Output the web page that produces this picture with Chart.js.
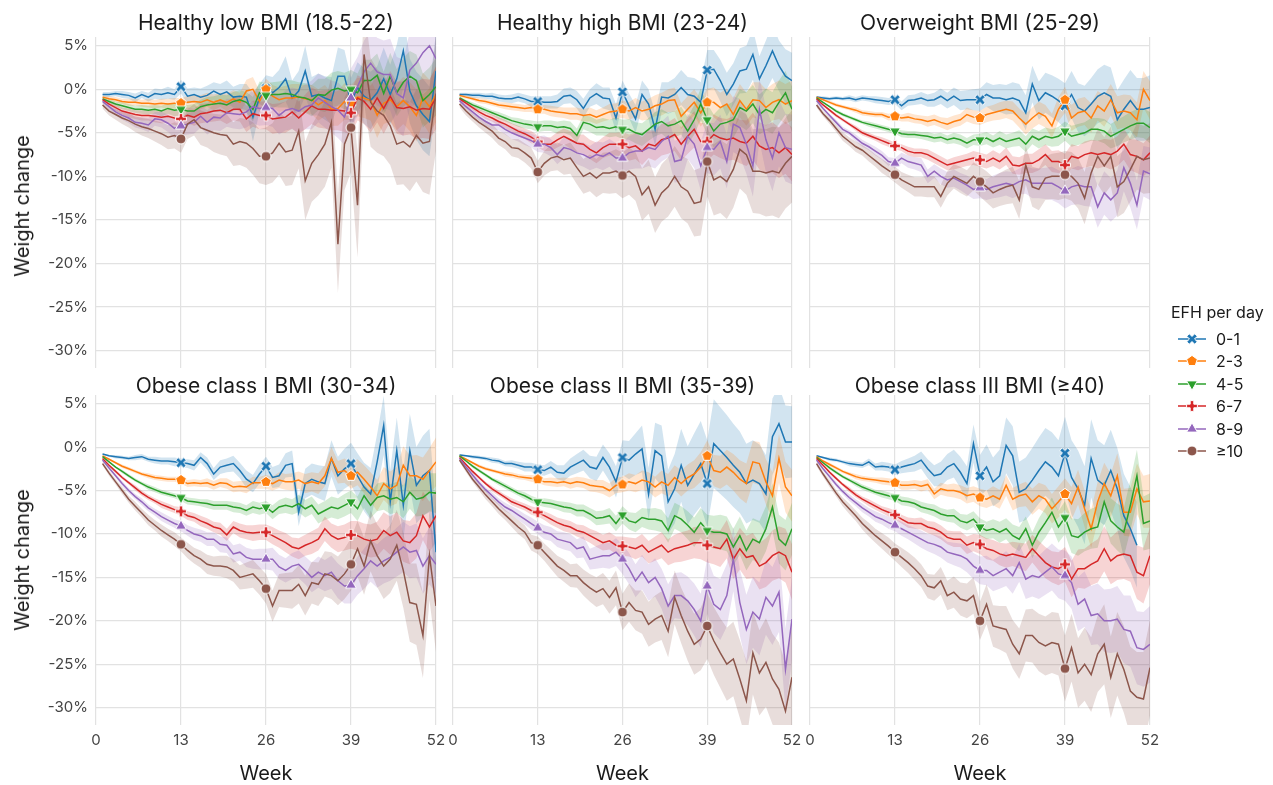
<!DOCTYPE html>
<html>
<head>
<meta charset="utf-8">
<script src="https://cdn.jsdelivr.net/npm/chart.js@4.4.1/dist/chart.umd.min.js"></script>
<style>
  body { margin: 0; background: #fff; font-family: Inter, "Noto Sans", sans-serif; }
  #fig { position: relative; width: 1273px; height: 785px; overflow: hidden; background: #fff; }
  #fig canvas.panel { position: absolute; }
  .txt { position: absolute; white-space: nowrap; color: #1a1a1a; transform: translate(-50%, -50%); }
  .ptitle { font-size: 21px; }
  .axtitle { font-size: 20px; }
  .ytitle { transform: translate(-50%, -50%) rotate(-90deg); }
  #legend { position: absolute; left: 1171px; top: 300px; color: #1a1a1a; }
  #legend .lgTitle { font-size: 16px; height: 24px; line-height: 24px; white-space: nowrap; }
  #legend .lgRow { position: absolute; left: 7px; height: 16px; display: flex; align-items: center; font-size: 16px; white-space: nowrap; }
  #legend .lgRow canvas { margin-right: 10px; }
</style>
</head>
<body>
<div id="fig"></div>
<script>
// weekly mean weight change (%) and CI half-widths, one array per EFH group
const weeks = [1,2,3,4,5,6,7,8,9,10,11,12,13,14,15,16,17,18,19,20,21,22,23,24,25,26,
  27,28,29,30,31,32,33,34,35,36,37,38,39,40,41,42,43,44,45,46,47,48,49,50,51,52];
const markWeeks = [13, 26, 39];
const xTicks = [0, 13, 26, 39, 52];
const yTicks = [5, 0, -5, -10, -15, -20, -25, -30];
const efhLabels = ['0-1', '2-3', '4-5', '6-7', '8-9', '≥10'];
const panelTitles = ['Healthy low BMI (18.5-22)', 'Healthy high BMI (23-24)', 'Overweight BMI (25-29)',
  'Obese class I BMI (30-34)', 'Obese class II BMI (35-39)', 'Obese class III BMI (≥40)'];

// Healthy low BMI
const lowBmi01 = [-0.6,-0.6,-0.5,-0.6,-0.7,-1.0,-0.6,-0.9,-0.5,-0.6,-0.4,-0.6,0.3,
  -0.8,-0.6,-0.9,-0.7,-0.2,-0.6,-0.3,-0.9,-0.8,-0.9,-3.2,-1.0,0.1,
  -0.4,0.2,1.2,-1.0,-0.2,2.1,-0.8,-0.6,-1.0,-1.3,1.5,1.5,-1.5,
  0.2,-0.8,-1.3,-0.4,1.2,-0.6,1.2,4.4,-0.2,-1.9,-2.9,-3.7,2.1];
const lowBmi23 = [-0.9,-1.1,-1.2,-1.4,-1.5,-1.5,-1.6,-1.6,-1.7,-1.6,-1.7,-1.6,-1.6,
  -1.5,-1.4,-1.5,-1.2,-1.5,-1.2,-1.5,-1.1,-1.5,-0.2,0.0,-1.4,0.0,
  -0.8,-1.2,-1.0,-1.0,-0.9,-1.1,-1.2,-1.8,-1.3,-2.3,-2.2,-1.4,-1.5,
  -0.9,-1.0,-1.3,-3.0,-1.6,-1.2,-2.0,-1.3,-2.0,-3.0,-1.0,-2.0,-0.6];
const lowBmi45 = [-1.1,-1.4,-1.7,-1.9,-2.1,-2.3,-2.3,-2.4,-2.3,-2.5,-2.2,-2.4,-2.3,
  -2.5,-2.5,-2.0,-1.8,-1.7,-1.6,-1.8,-1.4,-1.2,-1.5,-2.3,-0.4,-0.7,
  -0.6,-0.6,-0.5,-0.6,-0.9,-1.0,-1.3,-0.6,-0.7,-0.1,0.1,-0.2,0.0,
  -0.4,1.0,1.0,1.6,-0.5,1.5,-0.4,0.8,1.5,1.0,-1.3,-0.6,0.3];
const lowBmi67 = [-1.2,-1.7,-2.1,-2.5,-2.7,-2.9,-3.0,-3.0,-3.1,-3.2,-3.1,-3.3,-3.4,
  -3.0,-3.2,-2.8,-2.7,-2.5,-2.4,-2.7,-2.3,-2.3,-3.4,-2.8,-3.0,-3.0,
  -3.4,-3.3,-3.2,-2.6,-3.3,-2.6,-1.9,-2.3,-2.3,-2.4,-2.4,-2.5,-2.7,
  -1.0,-1.4,-2.3,-1.0,-2.2,-0.8,-2.1,-2.2,-2.0,-2.4,-2.2,-2.3,-1.0];
const lowBmi89 = [-1.4,-2.0,-2.6,-3.0,-3.3,-3.8,-3.9,-4.1,-3.4,-3.5,-3.9,-4.5,-4.2,
  -4.0,-3.8,-3.1,-3.8,-3.2,-3.3,-2.7,-2.8,-2.9,-2.6,-2.0,-2.2,-2.1,
  -2.2,-3.0,-2.4,-2.2,-2.5,-2.0,-1.8,-1.0,-1.5,-2.0,-2.4,-3.2,-1.0,
  0.3,2.0,3.0,2.0,1.7,1.7,-0.5,-1.0,2.2,3.0,4.2,5.0,3.5];
const lowBmi10 = [-1.8,-2.5,-2.9,-3.3,-3.6,-4.0,-4.3,-4.5,-4.8,-5.1,-5.5,-5.3,-5.7,
  -4.0,-3.5,-4.4,-4.7,-5.0,-5.2,-5.3,-6.3,-6.0,-6.2,-6.8,-7.7,-7.7,
  -7.3,-6.2,-7.2,-7.0,-4.8,-10.5,-8.5,-7.5,-6.3,-3.8,-17.8,-6.3,-4.4,
  -13.3,4.0,-1.5,-2.5,-3.0,-4.2,-6.3,-6.0,-6.6,-5.3,-6.2,-6.0,-0.5];
const lowBmi01Ci = [0.3,0.3,0.3,0.4,0.4,0.5,0.4,0.5,0.6,0.6,0.7,0.6,0.8,
  0.9,0.8,1.0,1.1,1.0,1.2,1.3,1.2,1.4,1.5,2.8,1.6,1.5,
  1.8,2.0,2.6,2.0,2.3,2.9,2.2,2.4,2.5,2.7,3.3,3.0,2.8,
  2.9,3.2,3.3,3.0,3.6,3.4,3.9,4.3,3.7,3.9,4.1,4.0,4.4];
const lowBmi23Ci = [0.2,0.3,0.3,0.3,0.4,0.4,0.4,0.5,0.5,0.5,0.6,0.6,0.6,
  0.7,0.7,0.8,0.8,0.9,0.8,1.0,1.0,1.1,1.3,1.4,1.2,1.2,
  1.3,1.4,1.4,1.6,1.5,1.6,1.7,1.8,1.8,1.9,2.0,2.1,2.0,
  2.2,2.3,2.3,2.6,2.4,2.5,2.7,2.7,2.8,3.0,2.9,3.1,3.2];
const lowBmi45Ci = [0.2,0.3,0.3,0.4,0.4,0.4,0.5,0.5,0.5,0.6,0.6,0.7,0.7,
  0.7,0.8,0.8,0.9,0.9,1.0,1.1,1.1,1.1,1.2,1.4,1.3,1.4,
  1.4,1.5,1.6,1.6,1.7,1.7,1.8,1.8,1.9,2.0,2.0,2.1,2.2,
  2.2,2.4,2.4,2.5,2.5,2.7,2.7,2.8,2.9,3.0,3.1,3.1,3.3];
const lowBmi67Ci = [0.3,0.3,0.4,0.4,0.5,0.5,0.6,0.6,0.7,0.7,0.8,0.8,0.9,
  0.9,1.0,1.1,1.1,1.2,1.2,1.3,1.3,1.4,1.5,1.5,1.6,1.6,
  1.7,1.7,1.8,1.9,1.9,2.0,2.1,2.1,2.2,2.3,2.3,2.4,2.5,
  2.6,2.6,2.7,2.8,2.9,2.9,3.0,3.1,3.2,3.3,3.4,3.4,3.6];
const lowBmi89Ci = [0.3,0.4,0.4,0.5,0.6,0.6,0.7,0.8,0.8,0.9,1.0,1.1,1.1,
  1.2,1.3,1.3,1.4,1.5,1.5,1.6,1.7,1.7,1.8,1.9,2.0,2.0,
  2.1,2.2,2.3,2.4,2.5,2.6,2.8,2.8,2.9,3.0,3.2,3.2,3.4,
  3.4,3.6,3.7,3.9,3.9,4.1,4.2,4.4,4.4,4.6,4.7,4.9,5.0];
const lowBmi10Ci = [0.4,0.5,0.6,0.7,0.8,0.9,1.0,1.1,1.2,1.3,1.4,1.5,1.6,
  1.7,1.8,2.0,2.0,2.2,2.3,2.4,2.5,2.7,2.8,3.0,3.1,3.3,
  3.4,3.6,3.9,4.0,4.3,4.5,4.4,4.7,4.9,5.2,5.6,5.3,5.1,
  6.0,5.6,5.1,4.8,4.7,4.5,4.7,4.9,5.1,5.3,5.6,6.1,6.6];

// Healthy high BMI
const highBmi01 = [-0.6,-0.6,-0.7,-0.7,-0.8,-0.8,-1.0,-1.1,-1.1,-0.9,-1.1,-1.4,-1.4,
  -1.5,-1.5,-1.4,-0.8,-0.7,-1.2,-2.2,-1.0,-0.5,-1.0,-1.1,-3.3,-0.3,
  -1.9,-3.4,-0.6,-1.7,-4.6,-0.9,-1.0,-0.6,0.2,-0.6,-0.8,-1.5,2.2,
  2.3,1.0,-0.6,0.6,2.1,2.3,4.0,1.2,2.7,4.4,2.7,1.5,1.0];
const highBmi23 = [-0.7,-0.9,-1.1,-1.3,-1.4,-1.6,-1.8,-1.9,-2.0,-2.1,-2.2,-2.1,-2.3,
  -2.3,-2.5,-2.6,-2.7,-2.8,-2.8,-3.0,-2.9,-3.2,-2.9,-2.6,-2.5,-2.3,
  -2.5,-2.1,-2.5,-2.3,-1.9,-1.7,-1.3,-1.2,-3.1,-2.3,-1.5,-2.7,-1.5,
  -1.5,-2.1,-1.7,-2.9,-1.3,-2.3,-1.2,-1.3,-2.1,-1.5,-1.2,-1.7,-1.3];
const highBmi45 = [-1.0,-1.4,-1.8,-2.1,-2.4,-2.7,-3.0,-3.3,-3.6,-3.8,-4.0,-4.1,-4.3,
  -4.2,-4.2,-4.4,-4.3,-4.5,-5.3,-3.8,-4.0,-4.4,-4.3,-4.5,-4.3,-4.6,
  -4.6,-5.0,-5.2,-4.6,-4.0,-3.7,-4.2,-4.0,-3.6,-4.8,-3.5,-1.7,-3.5,
  -4.8,-4.0,-3.8,-3.5,-2.1,-2.5,-1.7,-2.9,-2.3,-2.7,-1.5,-0.4,-2.3];
const highBmi67 = [-1.1,-1.6,-2.1,-2.6,-3.0,-3.3,-3.7,-4.0,-4.4,-4.8,-5.1,-5.5,-6.0,
  -6.3,-6.3,-5.8,-5.4,-5.8,-6.2,-6.3,-6.9,-7.3,-6.7,-6.3,-6.3,-6.3,
  -6.7,-6.5,-7.1,-6.3,-6.5,-5.8,-5.6,-5.2,-6.3,-5.4,-4.6,-6.0,-6.0,
  -5.2,-5.6,-5.8,-5.6,-6.0,-6.2,-5.4,-6.5,-6.9,-6.7,-7.3,-6.7,-7.5];
const highBmi89 = [-1.3,-2.0,-2.6,-3.2,-3.7,-4.1,-4.1,-4.6,-5.0,-5.3,-5.6,-5.9,-6.3,
  -6.3,-6.7,-7.5,-6.7,-6.9,-7.3,-7.5,-7.9,-7.5,-7.7,-7.3,-7.9,-7.9,
  -7.3,-7.1,-7.1,-6.7,-6.9,-6.0,-5.4,-8.3,-8.1,-5.4,-6.3,-8.8,-6.7,
  -6.9,-6.0,-8.3,-4.0,-4.4,-6.3,-8.8,-2.3,-5.8,-7.9,-5.0,-6.7,-6.9];
const highBmi10 = [-1.7,-2.5,-3.2,-3.8,-4.3,-4.8,-5.6,-6.0,-6.7,-6.8,-7.3,-7.9,-9.5,
  -8.5,-7.9,-7.7,-8.1,-7.9,-9.0,-10.0,-9.6,-10.2,-9.6,-9.6,-9.4,-9.9,
  -9.4,-10.0,-12.1,-11.2,-13.3,-11.9,-11.2,-10.0,-11.2,-11.7,-13.1,-12.9,-8.3,
  -10.4,-10.0,-10.6,-9.2,-6.9,-7.5,-9.4,-9.4,-9.6,-9.4,-9.6,-8.5,-7.7];
const highBmi01Ci = [0.2,0.2,0.3,0.3,0.3,0.4,0.4,0.4,0.5,0.5,0.5,0.6,0.6,
  0.7,0.7,0.8,0.9,0.9,1.0,1.1,1.0,1.2,1.2,1.3,1.6,1.3,
  1.4,1.6,1.6,1.7,1.9,1.7,1.8,1.9,2.0,2.0,2.1,2.3,2.3,
  2.2,2.4,2.5,2.4,2.6,2.7,2.9,2.6,2.9,3.1,2.9,3.1,3.2];
const highBmi23Ci = [0.2,0.2,0.2,0.3,0.3,0.3,0.3,0.4,0.4,0.4,0.4,0.5,0.5,
  0.5,0.6,0.6,0.6,0.7,0.7,0.7,0.8,0.8,0.8,0.9,0.9,1.0,
  1.0,1.1,1.1,1.2,1.2,1.3,1.3,1.4,1.5,1.5,1.5,1.6,1.6,
  1.7,1.7,1.8,1.9,1.9,1.9,2.0,2.1,2.1,2.1,2.2,2.3,2.3];
const highBmi45Ci = [0.2,0.2,0.3,0.3,0.3,0.3,0.4,0.4,0.4,0.5,0.5,0.5,0.6,
  0.6,0.6,0.7,0.7,0.8,0.8,0.8,0.9,0.9,1.0,1.0,1.1,1.1,
  1.2,1.2,1.3,1.3,1.4,1.4,1.5,1.5,1.6,1.6,1.7,1.8,1.8,
  1.9,1.9,2.0,2.1,2.1,2.2,2.2,2.3,2.4,2.4,2.5,2.5,2.6];
const highBmi67Ci = [0.2,0.3,0.3,0.3,0.4,0.4,0.5,0.5,0.5,0.6,0.6,0.7,0.7,
  0.8,0.8,0.9,0.9,1.0,1.0,1.1,1.1,1.2,1.2,1.3,1.3,1.4,
  1.5,1.5,1.6,1.6,1.7,1.8,1.8,1.9,1.9,2.0,2.1,2.1,2.2,
  2.3,2.3,2.4,2.5,2.5,2.6,2.7,2.7,2.8,2.9,2.9,3.0,3.1];
const highBmi89Ci = [0.3,0.3,0.4,0.4,0.5,0.5,0.6,0.6,0.7,0.7,0.8,0.8,0.9,
  1.0,1.0,1.1,1.2,1.2,1.3,1.4,1.4,1.5,1.6,1.6,1.7,1.8,
  1.9,2.0,2.0,2.1,2.2,2.3,2.4,2.4,2.5,2.6,2.7,2.8,2.9,
  3.0,3.1,3.1,3.2,3.3,3.4,3.5,3.6,3.7,3.8,3.8,3.9,4.0];
const highBmi10Ci = [0.4,0.5,0.5,0.6,0.7,0.8,0.8,0.9,1.0,1.1,1.1,1.2,1.3,
  1.4,1.5,1.6,1.7,1.8,1.9,2.0,2.1,2.2,2.3,2.4,2.5,2.6,
  2.7,2.8,3.0,3.1,3.2,3.3,3.4,3.5,3.6,3.7,3.8,3.9,4.0,
  4.1,4.2,4.3,4.4,4.5,4.6,4.8,4.9,5.0,5.1,5.2,5.2,5.3];

// Overweight BMI
const overBmi01 = [-0.9,-1.0,-1.1,-1.0,-1.1,-1.0,-1.2,-1.0,-1.1,-1.2,-1.3,-1.4,-1.2,
  -1.9,-1.3,-1.2,-1.0,-1.3,-1.2,-0.8,-1.3,-0.8,-1.3,-1.2,-1.2,-1.2,
  -0.6,-1.0,-1.0,-1.2,-1.0,-1.3,-2.7,0.6,-1.3,-0.4,-0.8,-1.3,-1.9,
  -0.6,-2.1,-2.5,-1.7,-0.8,-0.4,-0.8,-3.5,-2.3,-1.3,-2.3,-2.3,-2.1];
const overBmi23 = [-0.9,-1.2,-1.5,-1.8,-2.0,-2.2,-2.4,-2.7,-2.8,-2.9,-2.9,-3.2,-3.1,
  -3.3,-3.2,-3.4,-3.5,-3.7,-3.5,-3.8,-4.0,-3.7,-3.5,-2.9,-3.2,-3.3,
  -2.9,-2.7,-2.5,-2.3,-2.5,-3.3,-4.0,-3.3,-2.7,-3.1,-4.2,-2.3,-1.2,
  -3.3,-2.7,-2.5,-3.3,-1.9,-2.5,-1.2,-2.7,-2.5,-2.7,-3.5,0.0,-1.3];
const overBmi45 = [-1.0,-1.5,-2.0,-2.5,-2.9,-3.2,-3.5,-3.8,-4.0,-4.2,-4.4,-4.6,-4.8,
  -5.1,-5.2,-5.2,-5.3,-5.4,-5.6,-5.5,-5.8,-5.6,-5.8,-6.2,-5.8,-5.8,
  -5.6,-6.0,-5.6,-6.0,-5.8,-5.6,-6.3,-5.4,-5.8,-5.4,-5.6,-5.4,-4.8,
  -5.4,-5.2,-5.0,-4.6,-4.6,-4.8,-5.4,-5.0,-4.6,-4.2,-3.9,-3.9,-4.4];
const overBmi67 = [-1.1,-1.8,-2.4,-3.0,-3.5,-4.0,-4.5,-5.0,-5.3,-5.6,-5.9,-6.2,-6.5,
  -6.7,-7.1,-7.3,-7.3,-7.5,-7.9,-8.3,-8.7,-8.5,-8.3,-8.1,-7.9,-8.1,
  -8.3,-7.9,-8.3,-7.7,-8.7,-8.8,-8.5,-8.5,-8.1,-7.5,-8.3,-8.3,-8.7,
  -7.7,-7.9,-7.5,-7.3,-7.5,-7.3,-7.5,-7.1,-6.3,-7.5,-7.7,-8.1,-7.3];
const overBmi89 = [-1.3,-2.2,-3.0,-3.8,-4.6,-5.0,-5.6,-6.2,-6.6,-7.1,-7.6,-8.3,-8.5,
  -7.9,-8.3,-8.5,-8.7,-10.0,-9.4,-10.0,-10.4,-10.2,-10.6,-11.0,-11.5,-11.3,
  -11.5,-11.2,-11.0,-10.8,-11.0,-10.6,-10.4,-10.8,-10.8,-10.8,-10.8,-11.2,-11.7,
  -11.2,-11.0,-11.2,-11.2,-13.5,-11.9,-12.7,-11.9,-9.0,-10.8,-13.3,-9.4,-9.7];
const overBmi10 = [-1.8,-2.8,-3.6,-4.5,-5.4,-6.0,-6.6,-7.0,-7.6,-8.2,-8.8,-9.3,-9.8,
  -10.4,-10.8,-11.2,-11.2,-11.2,-11.2,-12.3,-10.8,-10.0,-10.4,-10.8,-10.0,-10.6,
  -11.2,-11.9,-11.5,-11.2,-11.0,-12.7,-8.7,-11.2,-11.5,-10.2,-10.0,-10.0,-9.8,
  -10.0,-10.8,-12.5,-9.6,-7.7,-8.8,-7.7,-11.2,-10.6,-9.2,-7.7,-8.1,-7.9];
const overBmi01Ci = [0.1,0.2,0.2,0.2,0.2,0.3,0.3,0.3,0.3,0.4,0.4,0.4,0.5,
  0.5,0.6,0.6,0.7,0.7,0.8,0.9,0.9,1.0,1.1,1.1,1.2,1.3,
  1.4,1.5,1.6,1.7,1.8,1.9,2.0,2.1,2.2,2.3,2.4,2.5,2.6,
  2.7,2.8,2.9,3.0,3.1,3.2,3.3,3.4,3.4,3.5,3.6,3.6,3.7];
const overBmi23Ci = [0.1,0.1,0.2,0.2,0.2,0.2,0.3,0.3,0.3,0.3,0.3,0.4,0.4,
  0.4,0.5,0.5,0.5,0.6,0.6,0.6,0.7,0.7,0.7,0.8,0.8,0.8,
  0.9,0.9,1.0,1.0,1.1,1.1,1.2,1.2,1.3,1.3,1.4,1.4,1.5,
  1.5,1.6,1.6,1.7,1.7,1.8,1.8,1.9,1.9,2.0,2.0,2.1,2.2];
const overBmi45Ci = [0.1,0.1,0.1,0.2,0.2,0.2,0.2,0.2,0.3,0.3,0.3,0.3,0.3,
  0.4,0.4,0.4,0.4,0.5,0.5,0.5,0.5,0.6,0.6,0.6,0.6,0.7,
  0.7,0.7,0.8,0.8,0.8,0.9,0.9,0.9,1.0,1.0,1.0,1.1,1.1,
  1.2,1.2,1.2,1.3,1.3,1.4,1.4,1.5,1.5,1.6,1.6,1.7,1.8];
const overBmi67Ci = [0.1,0.1,0.2,0.2,0.2,0.2,0.3,0.3,0.3,0.3,0.4,0.4,0.4,
  0.4,0.5,0.5,0.5,0.6,0.6,0.6,0.6,0.7,0.7,0.7,0.8,0.8,
  0.8,0.9,0.9,1.0,1.0,1.0,1.1,1.1,1.2,1.2,1.2,1.3,1.3,
  1.4,1.4,1.5,1.5,1.6,1.6,1.7,1.7,1.8,1.8,1.9,1.9,2.0];
const overBmi89Ci = [0.2,0.2,0.2,0.3,0.3,0.3,0.4,0.4,0.4,0.5,0.5,0.5,0.6,
  0.6,0.7,0.7,0.8,0.8,0.8,0.9,0.9,1.0,1.0,1.1,1.1,1.2,
  1.2,1.3,1.4,1.4,1.5,1.5,1.6,1.7,1.7,1.8,1.9,1.9,2.0,
  2.1,2.2,2.2,2.3,2.4,2.5,2.5,2.6,2.7,2.8,2.8,2.9,3.0];
const overBmi10Ci = [0.3,0.3,0.4,0.4,0.5,0.5,0.6,0.6,0.7,0.7,0.8,0.8,0.9,
  0.9,1.0,1.1,1.1,1.2,1.2,1.3,1.4,1.4,1.5,1.5,1.6,1.7,
  1.8,1.8,1.9,2.0,2.1,2.2,2.2,2.3,2.4,2.5,2.6,2.7,2.7,
  2.8,2.9,3.0,3.1,3.2,3.3,3.4,3.5,3.6,3.7,3.8,3.9,4.0];

// Obese class I BMI
const ob1Bmi01 = [-0.8,-1.0,-1.1,-1.2,-1.3,-1.2,-1.1,-1.4,-1.5,-1.6,-1.6,-1.7,-1.8,
  -1.9,-2.1,-1.2,-1.9,-3.1,-2.3,-2.1,-1.9,-2.7,-3.7,-4.2,-3.1,-2.2,
  -3.5,-3.3,-2.1,-1.9,-7.5,-4.2,-3.7,-4.0,-4.2,-1.3,-3.3,-2.5,-1.9,
  -3.3,-4.6,-5.4,-1.7,2.5,-6.3,-0.4,-6.7,-0.4,-4.4,-3.3,-2.7,-12.1];
const ob1Bmi23 = [-1.0,-1.4,-1.8,-2.2,-2.5,-2.8,-3.1,-3.3,-3.5,-3.6,-3.7,-3.7,-3.8,
  -4.2,-4.1,-4.2,-4.1,-4.4,-4.1,-4.2,-4.6,-4.5,-4.6,-4.1,-4.1,-4.0,
  -4.2,-3.8,-4.0,-4.0,-3.8,-4.2,-4.0,-4.2,-3.3,-1.3,-2.9,-2.7,-3.3,
  -2.9,-3.7,-4.6,-5.6,-4.2,-4.8,-4.4,-2.1,-3.3,-3.3,-3.7,-2.7,-1.7];
const ob1Bmi45 = [-1.1,-1.7,-2.3,-2.8,-3.3,-3.8,-4.2,-4.6,-4.9,-5.2,-5.4,-5.6,-5.8,
  -6.2,-6.3,-6.4,-6.5,-6.7,-6.7,-6.7,-6.9,-7.0,-7.3,-6.9,-7.1,-6.9,
  -7.5,-6.9,-6.7,-6.9,-6.5,-7.1,-6.7,-7.7,-7.3,-6.9,-7.1,-6.7,-6.3,
  -7.1,-5.6,-6.7,-5.8,-5.6,-6.0,-5.8,-6.3,-5.2,-6.0,-5.8,-5.2,-5.3];
const ob1Bmi67 = [-1.3,-2.1,-2.8,-3.5,-4.1,-4.7,-5.3,-5.8,-6.2,-6.6,-6.9,-7.2,-7.4,
  -7.9,-8.1,-8.5,-8.8,-9.2,-9.4,-10.1,-9.2,-9.6,-9.8,-9.9,-9.8,-9.8,
  -10.2,-10.6,-11.0,-11.5,-11.7,-11.3,-11.0,-10.6,-9.4,-10.2,-10.6,-10.4,-10.1,
  -10.2,-10.6,-10.8,-10.6,-9.6,-10.2,-9.8,-10.8,-11.0,-10.2,-7.9,-9.2,-7.9];
const ob1Bmi89 = [-1.5,-2.4,-3.3,-4.2,-5.0,-5.7,-6.3,-7.0,-7.5,-8.0,-8.4,-8.8,-9.1,
  -9.6,-10.0,-10.2,-10.6,-10.6,-11.2,-11.3,-12.3,-12.1,-12.7,-12.9,-12.9,-12.9,
  -12.9,-13.8,-14.2,-13.7,-13.5,-14.2,-15.0,-14.4,-14.8,-14.4,-15.4,-16.0,-15.9,
  -14.8,-14.0,-13.1,-13.7,-13.1,-12.7,-12.1,-11.5,-12.1,-11.9,-13.7,-12.5,-13.5];
const ob1Bmi10 = [-1.9,-3.0,-4.0,-5.0,-6.0,-6.8,-7.6,-8.4,-9.0,-9.6,-10.1,-10.6,-11.2,
  -11.9,-12.5,-12.9,-13.5,-13.7,-13.7,-13.8,-14.2,-15.0,-14.8,-14.6,-15.4,-16.3,
  -18.3,-16.5,-16.5,-16.5,-15.8,-17.1,-15.6,-15.8,-14.6,-14.8,-15.4,-14.6,-13.5,
  -11.7,-13.7,-10.8,-12.5,-13.7,-12.9,-11.3,-14.2,-17.9,-18.1,-21.7,-12.5,-18.3];
const ob1Bmi01Ci = [0.1,0.1,0.2,0.2,0.2,0.3,0.3,0.3,0.4,0.4,0.4,0.5,0.5,
  0.5,0.6,0.6,0.7,0.7,0.8,0.8,0.9,0.9,1.0,1.0,1.1,1.1,
  1.2,1.3,1.4,1.5,1.6,1.7,1.8,1.9,2.0,2.1,2.2,2.3,2.4,
  2.6,2.8,3.0,3.2,3.4,3.6,3.8,4.0,4.2,4.4,4.6,4.8,5.0];
const ob1Bmi23Ci = [0.1,0.1,0.1,0.2,0.2,0.2,0.2,0.3,0.3,0.3,0.3,0.3,0.4,
  0.4,0.4,0.4,0.5,0.5,0.5,0.6,0.6,0.6,0.7,0.7,0.7,0.8,
  0.8,0.9,0.9,1.0,1.0,1.1,1.1,1.2,1.2,1.3,1.3,1.4,1.5,
  1.5,1.6,1.7,1.8,1.9,2.0,2.1,2.2,2.3,2.4,2.5,2.6,2.8];
const ob1Bmi45Ci = [0.1,0.1,0.1,0.2,0.2,0.2,0.2,0.3,0.3,0.3,0.3,0.3,0.4,
  0.4,0.4,0.4,0.5,0.5,0.5,0.5,0.6,0.6,0.6,0.7,0.7,0.7,
  0.8,0.8,0.9,0.9,1.0,1.0,1.0,1.1,1.1,1.2,1.2,1.3,1.3,
  1.4,1.4,1.5,1.6,1.6,1.7,1.8,1.9,1.9,2.0,2.1,2.2,2.3];
const ob1Bmi67Ci = [0.1,0.1,0.2,0.2,0.2,0.3,0.3,0.3,0.3,0.4,0.4,0.4,0.5,
  0.5,0.5,0.6,0.6,0.6,0.7,0.7,0.7,0.8,0.8,0.9,0.9,0.9,
  1.0,1.0,1.1,1.1,1.2,1.2,1.3,1.3,1.4,1.4,1.5,1.5,1.6,
  1.7,1.8,1.9,2.0,2.1,2.2,2.3,2.4,2.5,2.6,2.8,2.9,3.0];
const ob1Bmi89Ci = [0.2,0.2,0.2,0.3,0.3,0.3,0.4,0.4,0.4,0.5,0.5,0.5,0.6,
  0.6,0.7,0.7,0.8,0.8,0.9,0.9,1.0,1.0,1.1,1.1,1.2,1.2,
  1.3,1.4,1.4,1.5,1.6,1.6,1.7,1.8,1.8,1.9,2.0,2.0,2.1,
  2.2,2.3,2.4,2.5,2.6,2.7,2.8,2.9,3.0,3.1,3.2,3.3,3.4];
const ob1Bmi10Ci = [0.2,0.3,0.3,0.4,0.4,0.5,0.5,0.6,0.6,0.7,0.7,0.8,0.8,
  0.9,0.9,1.0,1.1,1.1,1.2,1.3,1.3,1.4,1.5,1.6,1.6,1.7,
  1.8,1.9,2.0,2.1,2.2,2.3,2.4,2.5,2.6,2.7,2.8,2.9,3.0,
  3.2,3.3,3.5,3.6,3.8,3.9,4.1,4.3,4.5,4.7,4.9,5.1,5.3];

// Obese class II BMI
const ob2Bmi01 = [-0.9,-1.0,-1.1,-1.2,-1.3,-1.5,-1.6,-1.9,-1.9,-2.1,-2.3,-2.3,-2.6,
  -2.7,-2.3,-2.9,-3.0,-2.3,-1.9,-1.5,-2.3,-2.5,-1.2,-2.3,-4.0,-1.2,
  -1.5,-0.8,-0.2,-5.4,-0.4,-1.0,-6.3,-4.8,-2.1,-4.4,-3.1,-1.9,-4.2,
  0.4,-0.4,-1.2,-2.1,-2.9,-4.2,-3.8,-4.2,-5.4,1.2,2.7,0.6,0.6];
const ob2Bmi23 = [-1.0,-1.4,-1.8,-2.2,-2.5,-2.7,-2.9,-3.1,-3.2,-3.4,-3.5,-3.6,-3.7,
  -4.0,-4.0,-4.1,-4.0,-4.2,-4.0,-4.1,-4.4,-4.5,-4.6,-5.0,-4.4,-4.3,
  -4.0,-4.2,-3.8,-4.0,-4.6,-4.0,-4.4,-3.5,-4.2,-3.5,-3.1,-2.3,-1.0,
  -2.7,-2.9,-2.3,-2.9,-3.7,-4.2,-1.7,-1.9,-4.0,-5.6,-1.3,-4.6,-5.6];
const ob2Bmi45 = [-1.0,-1.6,-2.2,-2.7,-3.2,-3.7,-4.1,-4.5,-4.9,-5.3,-5.6,-6.0,-6.3,
  -6.4,-6.5,-6.7,-6.9,-7.0,-7.3,-7.3,-7.7,-8.2,-8.1,-7.9,-8.8,-7.8,
  -8.5,-8.7,-8.1,-8.3,-8.3,-8.5,-9.6,-7.9,-8.3,-9.0,-9.8,-8.7,-9.6,
  -9.8,-9.8,-10.0,-11.5,-10.2,-11.9,-10.6,-11.0,-9.4,-6.9,-10.6,-11.3,-9.4];
const ob2Bmi67 = [-1.2,-2.0,-2.8,-3.5,-4.2,-4.8,-5.3,-5.8,-6.3,-6.6,-6.9,-7.3,-7.5,
  -7.9,-8.3,-8.7,-9.0,-9.2,-9.6,-9.8,-10.2,-10.6,-11.0,-10.8,-11.3,-11.4,
  -11.5,-11.7,-11.3,-12.1,-11.7,-11.3,-12.1,-11.7,-11.5,-11.3,-11.0,-11.0,-11.3,
  -11.5,-11.7,-10.6,-12.9,-11.7,-12.7,-12.5,-13.7,-13.3,-12.5,-12.1,-12.5,-14.4];
const ob2Bmi89 = [-1.3,-2.3,-3.2,-4.1,-4.9,-5.6,-6.3,-6.9,-7.3,-7.8,-8.3,-8.8,-9.3,
  -9.8,-10.0,-10.6,-10.8,-11.0,-11.7,-11.5,-12.9,-12.7,-12.5,-12.5,-12.1,-12.9,
  -14.0,-15.4,-14.4,-15.6,-15.0,-16.3,-18.3,-17.1,-17.1,-17.7,-18.7,-20.0,-16.0,
  -18.1,-18.7,-17.1,-12.9,-17.9,-21.0,-19.0,-19.8,-17.3,-18.3,-16.7,-25.6,-19.8];
const ob2Bmi10 = [-1.5,-2.6,-3.7,-4.6,-5.5,-6.3,-7.1,-7.8,-8.5,-9.2,-9.8,-11.0,-11.3,
  -12.1,-12.9,-13.7,-14.2,-14.8,-14.8,-15.6,-16.2,-16.7,-16.3,-17.3,-16.2,-19.0,
  -17.9,-18.8,-19.0,-20.4,-19.8,-19.4,-21.2,-17.3,-19.4,-21.2,-22.7,-22.1,-20.6,
  -22.3,-23.7,-25.0,-24.4,-26.7,-29.2,-23.7,-26.0,-24.8,-26.7,-27.9,-30.4,-26.5];
const ob2Bmi01Ci = [0.1,0.1,0.2,0.2,0.2,0.3,0.3,0.3,0.4,0.4,0.5,0.5,0.6,
  0.6,0.7,0.8,0.9,1.0,1.1,1.2,1.3,1.4,1.5,1.6,1.8,2.0,
  2.2,2.4,2.7,3.0,3.2,3.5,3.7,4.0,4.2,4.5,4.7,4.9,5.0,
  5.1,5.0,4.9,4.8,4.7,4.6,4.6,4.5,4.5,4.4,4.3,4.2,4.1];
const ob2Bmi23Ci = [0.1,0.1,0.1,0.2,0.2,0.2,0.2,0.3,0.3,0.3,0.3,0.4,0.4,
  0.4,0.5,0.5,0.5,0.6,0.6,0.6,0.7,0.7,0.8,0.8,0.9,0.9,
  1.0,1.0,1.1,1.1,1.2,1.3,1.3,1.4,1.5,1.5,1.6,1.7,1.8,
  1.8,1.9,2.0,2.1,2.2,2.3,2.4,2.5,2.6,2.7,2.8,2.9,3.0];
const ob2Bmi45Ci = [0.1,0.1,0.2,0.2,0.2,0.2,0.3,0.3,0.3,0.3,0.4,0.4,0.4,
  0.5,0.5,0.5,0.6,0.6,0.7,0.7,0.7,0.8,0.8,0.9,0.9,1.0,
  1.0,1.1,1.1,1.2,1.3,1.3,1.4,1.5,1.5,1.6,1.7,1.7,1.8,
  1.9,2.0,2.0,2.1,2.2,2.3,2.4,2.5,2.6,2.7,2.8,2.9,3.0];
const ob2Bmi67Ci = [0.1,0.1,0.2,0.2,0.2,0.3,0.3,0.3,0.4,0.4,0.4,0.5,0.5,
  0.5,0.6,0.6,0.7,0.7,0.7,0.8,0.8,0.9,0.9,1.0,1.0,1.1,
  1.1,1.2,1.3,1.3,1.4,1.5,1.5,1.6,1.7,1.7,1.8,1.9,2.0,
  2.0,2.1,2.2,2.3,2.4,2.5,2.6,2.7,2.8,2.9,3.0,3.1,3.2];
const ob2Bmi89Ci = [0.2,0.2,0.3,0.3,0.3,0.4,0.4,0.5,0.5,0.6,0.6,0.7,0.7,
  0.8,0.8,0.9,1.0,1.0,1.1,1.2,1.2,1.3,1.4,1.5,1.6,1.7,
  1.8,1.9,2.0,2.1,2.2,2.3,2.5,2.6,2.7,2.8,3.0,3.1,3.2,
  3.3,3.5,3.6,3.7,3.8,4.0,4.1,4.2,4.3,4.5,4.6,4.7,4.8];
const ob2Bmi10Ci = [0.2,0.3,0.3,0.4,0.5,0.5,0.6,0.6,0.7,0.8,0.8,0.9,1.0,
  1.0,1.1,1.2,1.3,1.3,1.4,1.5,1.6,1.7,1.8,1.9,2.0,2.1,
  2.2,2.3,2.5,2.6,2.7,2.8,3.0,3.1,3.2,3.4,3.5,3.6,3.8,
  3.9,4.0,4.2,4.3,4.5,4.6,4.8,4.9,5.1,5.2,5.4,5.5,5.7];

// Obese class III BMI
const ob3Bmi01 = [-1.0,-1.2,-1.4,-1.5,-1.7,-1.9,-2.0,-2.1,-1.7,-2.3,-2.2,-2.3,-2.6,
  -2.3,-2.1,-1.9,-1.5,-2.5,-3.3,-3.1,-2.3,-1.9,-2.9,-4.2,0.4,-3.3,
  -2.3,-4.0,-3.3,0.2,-1.0,-5.2,-4.8,-3.8,-2.7,-1.7,-2.3,-3.3,-0.7,
  -3.5,-4.8,-6.7,-1.3,-3.8,-4.4,-2.7,-4.8,-7.9,-9.4,-11.3,null,null];
const ob3Bmi23 = [-1.1,-1.6,-2.0,-2.4,-2.8,-3.1,-3.4,-3.6,-3.7,-3.8,-3.9,-4.0,-4.1,
  -4.4,-4.4,-4.3,-4.5,-4.3,-5.4,-4.8,-5.0,-5.0,-5.2,-5.6,-5.4,-5.8,
  -6.0,-5.6,-6.0,-4.4,-6.0,-5.6,-5.4,-6.3,-5.6,-6.0,-7.1,-6.3,-5.4,
  -6.5,-4.6,-7.1,-9.4,-6.3,-4.2,-5.6,-3.3,-7.5,-7.5,-4.8,-6.3,-6.2];
const ob3Bmi45 = [-1.2,-1.8,-2.4,-2.9,-3.4,-3.8,-4.2,-4.6,-4.9,-5.2,-5.4,-5.6,-5.8,
  -6.2,-6.3,-6.5,-6.9,-7.1,-7.3,-7.7,-7.9,-7.9,-8.5,-8.7,-8.3,-9.2,
  -9.6,-9.4,-9.8,-9.4,-10.2,-10.6,-9.4,-11.3,-9.8,-8.7,-7.5,-9.2,-8.1,
  -10.2,-10.4,-9.8,-9.4,-9.2,-6.3,-8.5,-9.2,-9.8,-6.7,-3.3,-8.8,-8.5];
const ob3Bmi67 = [-1.3,-2.1,-2.9,-3.6,-4.3,-4.9,-5.5,-6.0,-6.4,-6.8,-7.2,-7.5,-7.8,
  -8.3,-8.7,-8.8,-8.8,-9.2,-9.4,-9.8,-10.4,-10.6,-10.6,-11.3,-11.0,-11.2,
  -11.7,-11.9,-12.3,-12.5,-12.3,-12.5,-12.7,-11.7,-12.5,-13.3,-13.8,-14.0,-13.5,
  -15.2,-14.0,-14.0,-13.5,-13.1,-11.7,-13.1,-12.5,-12.3,-12.5,-14.4,-14.8,-12.5];
const ob3Bmi89 = [-1.5,-2.5,-3.4,-4.3,-5.1,-5.8,-6.4,-7.0,-7.5,-8.0,-8.3,-8.7,-9.0,
  -9.4,-9.8,-10.2,-10.6,-11.0,-11.2,-11.5,-12.1,-12.3,-12.5,-12.9,-13.7,-14.2,
  -14.2,-14.8,-14.4,-14.0,-14.8,-13.3,-15.2,-14.8,-15.0,-14.4,-13.8,-14.6,-14.8,
  -15.6,-18.1,-17.5,-19.4,-19.2,-20.0,-20.0,-19.8,-21.0,-21.2,-23.1,-23.3,-22.7];
const ob3Bmi10 = [-1.9,-3.1,-4.2,-5.3,-6.3,-7.1,-7.9,-8.8,-9.5,-10.2,-10.8,-11.4,-12.1,
  -12.7,-13.3,-14.0,-14.8,-16.0,-16.2,-15.4,-17.1,-16.7,-17.5,-17.7,-17.1,-20.0,
  -18.1,-20.6,-20.8,-21.0,-22.7,-23.8,-21.7,-21.7,-22.5,-22.9,-22.5,-22.7,-25.5,
  -23.1,-26.0,-25.0,-26.2,-23.8,-22.7,-26.5,-23.8,-25.6,-28.1,-28.8,-29.0,-25.4];
const ob3Bmi01Ci = [0.1,0.1,0.2,0.2,0.2,0.3,0.3,0.3,0.4,0.4,0.5,0.5,0.6,
  0.7,0.8,0.9,1.0,1.1,1.2,1.4,1.5,1.6,1.8,2.0,2.2,2.4,
  2.6,2.8,3.0,3.2,3.4,3.5,3.6,3.7,3.8,3.9,4.0,4.1,4.2,
  4.3,4.4,4.5,4.5,4.6,4.6,4.7,4.7,4.8,4.8,4.9,null,null];
const ob3Bmi23Ci = [0.1,0.1,0.2,0.2,0.2,0.2,0.3,0.3,0.3,0.3,0.4,0.4,0.4,
  0.5,0.5,0.5,0.6,0.6,0.6,0.7,0.7,0.8,0.8,0.9,0.9,1.0,
  1.0,1.1,1.1,1.2,1.3,1.3,1.4,1.5,1.5,1.6,1.7,1.8,1.8,
  1.9,2.0,2.1,2.2,2.3,2.4,2.5,2.6,2.7,2.8,2.9,3.0,3.1];
const ob3Bmi45Ci = [0.1,0.1,0.2,0.2,0.2,0.2,0.3,0.3,0.3,0.3,0.4,0.4,0.4,
  0.5,0.5,0.5,0.6,0.6,0.7,0.7,0.7,0.8,0.8,0.9,0.9,1.0,
  1.0,1.1,1.2,1.2,1.3,1.4,1.4,1.5,1.6,1.7,1.7,1.8,1.9,
  2.0,2.1,2.2,2.3,2.4,2.5,2.6,2.7,2.8,2.9,3.0,3.1,3.2];
const ob3Bmi67Ci = [0.1,0.1,0.2,0.2,0.2,0.3,0.3,0.3,0.4,0.4,0.4,0.5,0.5,
  0.5,0.6,0.6,0.7,0.7,0.8,0.8,0.8,0.9,0.9,1.0,1.0,1.1,
  1.2,1.2,1.3,1.4,1.4,1.5,1.6,1.6,1.7,1.8,1.8,1.9,2.0,
  2.1,2.2,2.3,2.4,2.5,2.6,2.7,2.8,2.9,3.0,3.1,3.2,3.3];
const ob3Bmi89Ci = [0.2,0.2,0.3,0.3,0.3,0.4,0.4,0.5,0.5,0.6,0.6,0.7,0.7,
  0.8,0.8,0.9,1.0,1.0,1.1,1.2,1.2,1.3,1.4,1.5,1.5,1.6,
  1.7,1.8,1.9,2.0,2.1,2.2,2.3,2.4,2.5,2.6,2.7,2.8,2.9,
  3.0,3.1,3.2,3.4,3.5,3.6,3.7,3.8,3.9,4.1,4.2,4.3,4.4];
const ob3Bmi10Ci = [0.3,0.3,0.4,0.4,0.5,0.6,0.6,0.7,0.8,0.8,0.9,1.0,1.0,
  1.1,1.2,1.3,1.3,1.4,1.5,1.6,1.7,1.8,1.9,2.0,2.1,2.2,
  2.3,2.4,2.5,2.7,2.8,2.9,3.0,3.1,3.3,3.4,3.5,3.6,3.8,
  3.9,4.0,4.2,4.3,4.4,4.6,4.7,4.8,5.0,5.1,5.2,5.4,5.5];

const panelMeans = [
  [lowBmi01, lowBmi23, lowBmi45, lowBmi67, lowBmi89, lowBmi10],
  [highBmi01, highBmi23, highBmi45, highBmi67, highBmi89, highBmi10],
  [overBmi01, overBmi23, overBmi45, overBmi67, overBmi89, overBmi10],
  [ob1Bmi01, ob1Bmi23, ob1Bmi45, ob1Bmi67, ob1Bmi89, ob1Bmi10],
  [ob2Bmi01, ob2Bmi23, ob2Bmi45, ob2Bmi67, ob2Bmi89, ob2Bmi10],
  [ob3Bmi01, ob3Bmi23, ob3Bmi45, ob3Bmi67, ob3Bmi89, ob3Bmi10]
];
const panelCis = [
  [lowBmi01Ci, lowBmi23Ci, lowBmi45Ci, lowBmi67Ci, lowBmi89Ci, lowBmi10Ci],
  [highBmi01Ci, highBmi23Ci, highBmi45Ci, highBmi67Ci, highBmi89Ci, highBmi10Ci],
  [overBmi01Ci, overBmi23Ci, overBmi45Ci, overBmi67Ci, overBmi89Ci, overBmi10Ci],
  [ob1Bmi01Ci, ob1Bmi23Ci, ob1Bmi45Ci, ob1Bmi67Ci, ob1Bmi89Ci, ob1Bmi10Ci],
  [ob2Bmi01Ci, ob2Bmi23Ci, ob2Bmi45Ci, ob2Bmi67Ci, ob2Bmi89Ci, ob2Bmi10Ci],
  [ob3Bmi01Ci, ob3Bmi23Ci, ob3Bmi45Ci, ob3Bmi67Ci, ob3Bmi89Ci, ob3Bmi10Ci]
];

// look
const efhColors = ['#1f77b4', '#ff7f0e', '#2ca02c', '#d62728', '#9467bd', '#8c564b'];
const efhShapes = ['x', 'pentagon', 'triDown', 'plus', 'triUp', 'circle'];
const FONT = 'Inter, "Noto Sans", sans-serif';
const TICK_COLOR = '#444';
const GRID_COLOR = '#e2e2e2';

// plot rectangles on the page
const plotLeft = [96, 453, 810], plotRight = [436, 792, 1150];
const plotTop = [37, 395], plotBottom = [368, 725];
const titleY = [22, 385], yTitleY = [206, 560];
// paddings are kept larger than the tick-label overhang so the plot area stays put
const AXIS_W = 70, AXIS_H = 40, PAD_T = 22, PAD_R = 24;

function rgba(hex, a) {
  const n = parseInt(hex.slice(1), 16);
  return `rgba(${n >> 16},${(n >> 8) & 255},${n & 255},${a})`;
}

function polygon(g, pts) {
  g.beginPath();
  pts.forEach((p, i) => i ? g.lineTo(p[0], p[1]) : g.moveTo(p[0], p[1]));
  g.closePath();
}

function regular(n, r, start) {
  const pts = [];
  for (let i = 0; i < n; i++) {
    const a = start + i * 2 * Math.PI / n;
    pts.push([r * Math.cos(a), r * Math.sin(a)]);
  }
  return pts;
}

// filled marker with a thin white edge, like seaborn's
function markerCanvas(shape, color) {
  const c = document.createElement('canvas');
  c.width = 16; c.height = 16;
  const g = c.getContext('2d');
  g.translate(8, 8);
  g.fillStyle = color;
  g.strokeStyle = '#fff';
  g.lineWidth = 1;
  if (shape === 'circle') {
    g.beginPath(); g.arc(0, 0, 5, 0, 2 * Math.PI);
  } else if (shape === 'pentagon') {
    polygon(g, regular(5, 5.6, -Math.PI / 2));
  } else if (shape === 'triUp') {
    polygon(g, regular(3, 6.2, -Math.PI / 2));
  } else if (shape === 'triDown') {
    polygon(g, regular(3, 6.2, Math.PI / 2));
  } else {
    const w = 1.8, L = shape === 'x' ? 5.6 : 5.4;
    let pts = [[-w,-L],[w,-L],[w,-w],[L,-w],[L,w],[w,w],[w,L],[-w,L],[-w,w],[-L,w],[-L,-w],[-w,-w]];
    if (shape === 'x') {
      const k = Math.SQRT1_2;
      pts = pts.map(p => [(p[0] - p[1]) * k, (p[0] + p[1]) * k]);
    }
    polygon(g, pts);
  }
  g.fill();
  g.stroke();
  return c;
}

const markers = efhColors.map((col, s) => markerCanvas(efhShapes[s], col));
const fig = document.getElementById('fig');

function addText(cls, text, x, y) {
  const d = document.createElement('div');
  d.className = 'txt ' + cls;
  d.textContent = text;
  d.style.left = x + 'px';
  d.style.top = y + 'px';
  fig.appendChild(d);
}

function buildDatasets(p) {
  const sets = [];
  panelMeans[p].forEach((means, s) => {
    const ci = panelCis[p][s];
    const pts = f => means.map((v, i) => ({ x: weeks[i], y: v == null ? null : f(v, ci[i]) }));
    sets.push({ data: pts((v, c) => v - c), borderWidth: 0, borderColor: 'transparent',
      pointRadius: 0, pointHoverRadius: 0, fill: false, order: 20 - s });
    sets.push({ data: pts((v, c) => v + c), borderWidth: 0, borderColor: 'transparent',
      pointRadius: 0, pointHoverRadius: 0, fill: '-1', backgroundColor: rgba(efhColors[s], 0.2), order: 20 - s });
    sets.push({ data: pts(v => v), borderColor: efhColors[s], borderWidth: 1.5, fill: false,
      pointStyle: markers[s], pointHoverRadius: 0,
      pointRadius: ctx => markWeeks.includes(weeks[ctx.dataIndex]) ? 5 : 0,
      order: 10 - s });
  });
  return sets;
}

panelTitles.forEach((title, p) => {
  const row = Math.floor(p / 3), col = p % 3;
  const w = plotRight[col] - plotLeft[col], h = plotBottom[row] - plotTop[row];
  const cv = document.createElement('canvas');
  cv.className = 'panel';
  cv.width = w + AXIS_W + PAD_R;
  cv.height = h + PAD_T + AXIS_H;
  cv.style.width = cv.width + 'px';
  cv.style.height = cv.height + 'px';
  cv.style.left = (plotLeft[col] - AXIS_W) + 'px';
  cv.style.top = (plotTop[row] - PAD_T) + 'px';
  fig.appendChild(cv);

  new Chart(cv, {
    type: 'line',
    data: { datasets: buildDatasets(p) },
    options: {
      responsive: false,
      animation: false,
      events: [],
      layout: { padding: { top: PAD_T, right: PAD_R, left: 0, bottom: 0 } },
      elements: { line: { tension: 0 } },
      plugins: { legend: { display: false }, tooltip: { enabled: false }, title: { display: false } },
      scales: {
        x: {
          type: 'linear', min: 0, max: 52,
          afterBuildTicks: sc => { sc.ticks = xTicks.map(v => ({ value: v })); },
          afterFit: sc => { sc.height = AXIS_H; },
          grid: { color: GRID_COLOR, lineWidth: 1.2, drawTicks: false },
          border: { display: false },
          ticks: { display: row === 1, padding: 6, color: TICK_COLOR, font: { family: FONT, size: 15 } }
        },
        y: {
          type: 'linear', min: -32, max: 6,
          afterBuildTicks: sc => { sc.ticks = yTicks.map(v => ({ value: v })); },
          afterFit: sc => { sc.width = AXIS_W; },
          grid: { color: GRID_COLOR, lineWidth: 1.2, drawTicks: false },
          border: { display: false },
          ticks: { display: col === 0, padding: 8, color: TICK_COLOR, font: { family: FONT, size: 15 },
            callback: v => v + '%' }
        }
      }
    }
  });

  const cx = (plotLeft[col] + plotRight[col]) / 2;
  addText('ptitle', title, cx, titleY[row]);
  if (row === 1) addText('axtitle', 'Week', cx, 773);
  if (col === 0) addText('axtitle ytitle', 'Weight change', 22, yTitleY[row]);
});

// legend
const legend = document.createElement('div');
legend.id = 'legend';
const lgTitle = document.createElement('div');
lgTitle.className = 'lgTitle';
lgTitle.textContent = 'EFH per day';
legend.appendChild(lgTitle);
efhLabels.forEach((label, s) => {
  const rowDiv = document.createElement('div');
  rowDiv.className = 'lgRow';
  rowDiv.style.top = (31 + s * 22.4) + 'px';
  const c = document.createElement('canvas');
  c.width = 28; c.height = 16;
  const g = c.getContext('2d');
  g.strokeStyle = efhColors[s];
  g.lineWidth = 1.5;
  g.beginPath(); g.moveTo(0, 8); g.lineTo(28, 8); g.stroke();
  g.drawImage(markers[s], 6, 0);
  rowDiv.appendChild(c);
  const t = document.createElement('span');
  t.textContent = label;
  rowDiv.appendChild(t);
  legend.appendChild(rowDiv);
});
fig.appendChild(legend);
</script>
</body>
</html>
